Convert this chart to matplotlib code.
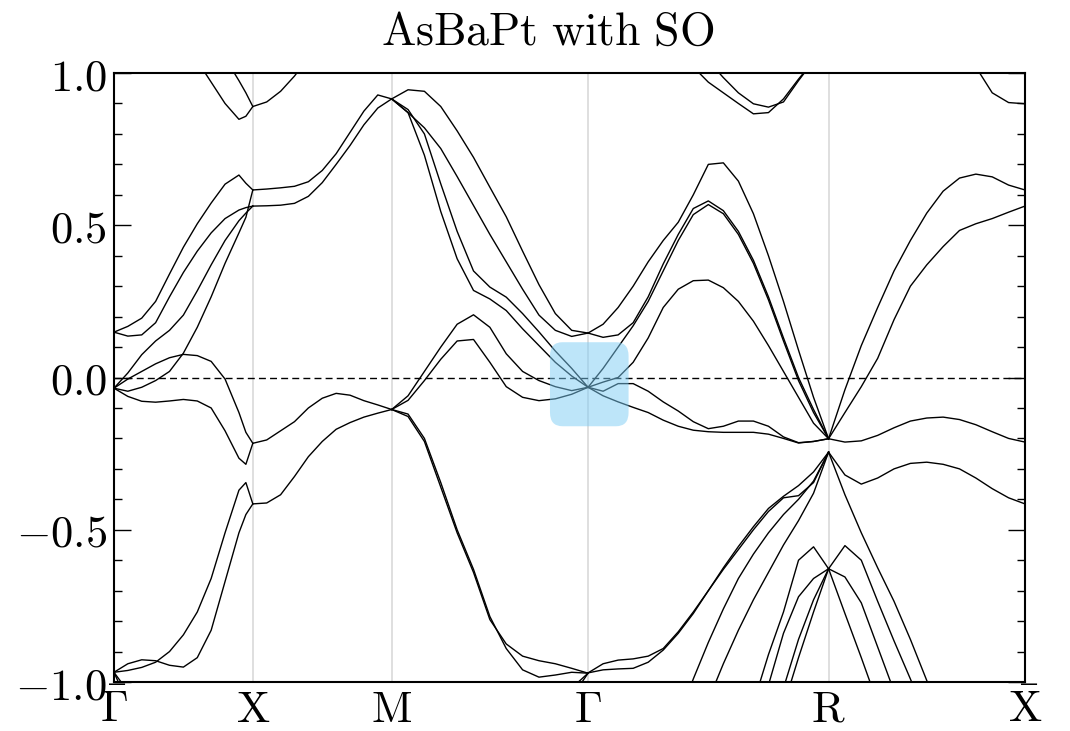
import numpy as np
import matplotlib
matplotlib.use("Agg")
import matplotlib.pyplot as plt
from matplotlib.patches import FancyBboxPatch
from matplotlib.ticker import MultipleLocator, FuncFormatter

plt.rcParams['mathtext.fontset'] = 'cm'

nan = np.nan

# high-symmetry path Γ-X-M-Γ-R-X (cubic, path length in 2π/a)
KPTS = [0.0, 0.5, 1.0, 1.7071, 2.5731, 3.2802]
KLABELS = [r'$\bar{\Gamma}$', r'$\mathrm{X}$', r'$\mathrm{M}$', r'$\Gamma$',
           r'$\mathrm{R}$', r'$\bar{\mathrm{X}}$']

# fractional sampling along each segment
GX_T = [0, .1, .2, .3, .4, .5, .6, .7, .8, .9, .95, 1.0]
XM_T = list(np.linspace(0, 1, 11))
MG_T = list(np.linspace(0, 1, 13))
GR_T = list(np.linspace(0, 1, 17))
RX_T = list(np.linspace(0, 1, 13))

# band energies (eV) along Γ-X
GX_BANDS = [
    [0.149, 0.168, 0.195, 0.25, 0.34, 0.428, 0.505, 0.573, 0.635, 0.665, 0.638, 0.616],
    [0.149, 0.136, 0.14, 0.18, 0.265, 0.345, 0.415, 0.475, 0.522, 0.55, 0.558, 0.563],
    [-0.035, 0.015, 0.075, 0.12, 0.155, 0.205, 0.285, 0.37, 0.45, 0.515, 0.54, 0.563],
    [-0.035, -0.045, -0.032, -0.01, 0.02, 0.08, 0.165, 0.265, 0.375, 0.475, 0.526, 0.616],
    [-0.035, -0.005, 0.02, 0.045, 0.065, 0.076, 0.072, 0.053, -0.005, -0.115, -0.18, -0.216],
    [-0.035, -0.062, -0.078, -0.081, -0.077, -0.072, -0.077, -0.1, -0.175, -0.265, -0.285, -0.216],
    [-0.968, -0.962, -0.952, -0.935, -0.9, -0.845, -0.77, -0.66, -0.51, -0.37, -0.345, -0.415],
    [-0.968, -0.94, -0.927, -0.93, -0.945, -0.951, -0.92, -0.83, -0.67, -0.51, -0.45, -0.415],
    [nan, nan, nan, nan, nan, 1.15, 1.04, 0.97, 0.9, 0.848, 0.858, 0.89],
    [nan, nan, nan, nan, nan, nan, nan, 1.13, 1.05, 0.975, 0.935, 0.89],
    [-0.968, -1.03, nan, nan, nan, nan, nan, nan, nan, nan, nan, nan],
    [-0.968, -1.07, nan, nan, nan, nan, nan, nan, nan, nan, nan, nan],
]

# band energies (eV) along X-M
XM_BANDS = [
    [0.616, 0.619, 0.623, 0.628, 0.643, 0.68, 0.735, 0.805, 0.875, 0.928, 0.915],
    [0.563, 0.564, 0.566, 0.572, 0.595, 0.64, 0.70, 0.762, 0.83, 0.885, 0.915],
    [-0.216, -0.205, -0.175, -0.145, -0.1, -0.068, -0.052, -0.058, -0.076, -0.09, -0.105],
    [-0.415, -0.412, -0.385, -0.325, -0.26, -0.21, -0.17, -0.148, -0.13, -0.117, -0.105],
    [0.89, 0.905, 0.94, 0.99, 1.05, nan, nan, nan, nan, nan, nan],
]

# band energies (eV) along M-Γ
MG_BANDS = [
    [0.915, 0.945, 0.94, 0.89, 0.81, 0.723, 0.625, 0.528, 0.415, 0.305, 0.21, 0.155, 0.146],
    [0.915, 0.87, 0.82, 0.752, 0.66, 0.565, 0.47, 0.38, 0.29, 0.205, 0.155, 0.135, 0.146],
    [0.915, 0.88, 0.80, 0.636, 0.48, 0.35, 0.297, 0.264, 0.21, 0.15, 0.087, 0.03, -0.032],
    [0.915, 0.87, 0.73, 0.545, 0.39, 0.286, 0.258, 0.22, 0.16, 0.105, 0.05, 0.005, -0.032],
    [-0.105, -0.06, 0.02, 0.1, 0.175, 0.206, 0.165, 0.078, 0.02, -0.01, -0.03, -0.043, -0.032],
    [-0.105, -0.075, -0.01, 0.06, 0.12, 0.125, 0.05, -0.03, -0.065, -0.076, -0.07, -0.055, -0.032],
    [-0.105, -0.128, -0.21, -0.36, -0.51, -0.64, -0.795, -0.875, -0.915, -0.93, -0.94, -0.955, -0.971],
    [-0.105, -0.12, -0.2, -0.345, -0.50, -0.63, -0.785, -0.89, -0.96, -0.984, -0.977, -0.968, -0.971],
    [nan, nan, nan, nan, nan, nan, nan, nan, nan, nan, nan, -1.02, -0.971],
    [nan, nan, nan, nan, nan, nan, nan, nan, nan, nan, nan, -1.05, -0.971],
]

# band energies (eV) along Γ-R
GR_BANDS = [
    [0.146, 0.175, 0.23, 0.30, 0.38, 0.45, 0.51, 0.60, 0.70, 0.705, 0.645, 0.538, 0.40, 0.25, 0.09, -0.065, -0.201],
    [0.146, 0.132, 0.14, 0.18, 0.265, 0.373, 0.47, 0.555, 0.58, 0.548, 0.48, 0.385, 0.265, 0.13, 0.0, -0.105, -0.201],
    [-0.032, 0.03, 0.10, 0.17, 0.25, 0.35, 0.45, 0.535, 0.568, 0.538, 0.47, 0.375, 0.255, 0.12, -0.01, -0.115, -0.201],
    [-0.032, -0.015, 0.0, 0.05, 0.13, 0.23, 0.29, 0.318, 0.32, 0.295, 0.25, 0.185, 0.105, 0.02, -0.065, -0.15, -0.201],
    [-0.032, -0.045, -0.02, -0.02, -0.045, -0.08, -0.11, -0.145, -0.168, -0.16, -0.143, -0.143, -0.16, -0.195, -0.214, -0.21, -0.201],
    [-0.032, -0.06, -0.08, -0.098, -0.115, -0.14, -0.16, -0.173, -0.178, -0.18, -0.18, -0.18, -0.186, -0.2, -0.215, -0.21, -0.201],
    [-0.970, -0.94, -0.928, -0.924, -0.915, -0.89, -0.835, -0.77, -0.70, -0.63, -0.565, -0.50, -0.44, -0.395, -0.388, -0.345, -0.245],
    [-0.970, -0.96, -0.957, -0.955, -0.935, -0.895, -0.84, -0.775, -0.70, -0.625, -0.555, -0.49, -0.43, -0.39, -0.355, -0.31, -0.245],
    [nan, nan, nan, nan, nan, nan, -1.12, -0.99, -0.87, -0.76, -0.66, -0.58, -0.51, -0.45, -0.40, -0.34, -0.245],
    [nan, nan, nan, nan, nan, nan, nan, nan, -1.06, -0.94, -0.83, -0.73, -0.64, -0.55, -0.47, -0.38, -0.245],
    [nan, nan, nan, nan, nan, nan, nan, nan, nan, nan, nan, -1.07, -0.91, -0.77, -0.60, -0.556, -0.628],
    [nan, nan, nan, nan, nan, nan, nan, nan, nan, nan, nan, nan, -1.01, -0.84, -0.72, -0.66, -0.628],
    [nan, nan, nan, nan, nan, nan, nan, nan, nan, nan, nan, nan, nan, -1.02, -0.86, -0.73, -0.628],
    [nan, nan, nan, nan, nan, nan, nan, nan, nan, nan, nan, nan, nan, -1.08, -0.92, -0.77, -0.628],
    [nan, nan, nan, nan, nan, nan, 1.1, 1.02, 0.97, 0.935, 0.9, 0.866, 0.87, 0.915, 0.98, 1.04, nan],
    [nan, nan, nan, nan, nan, nan, nan, nan, 1.04, 0.985, 0.935, 0.899, 0.888, 0.905, 0.975, 1.04, nan],
]

# band energies (eV) along R-X
RX_BANDS = [
    [-0.201, -0.04, 0.105, 0.23, 0.35, 0.45, 0.54, 0.612, 0.655, 0.668, 0.659, 0.632, 0.616],
    [-0.201, -0.115, -0.03, 0.063, 0.19, 0.3, 0.37, 0.43, 0.483, 0.505, 0.522, 0.543, 0.563],
    [-0.201, -0.212, -0.208, -0.19, -0.165, -0.143, -0.133, -0.130, -0.138, -0.155, -0.178, -0.2, -0.212],
    [-0.245, -0.32, -0.35, -0.33, -0.3, -0.282, -0.278, -0.285, -0.3, -0.33, -0.365, -0.395, -0.415],
    [-0.245, -0.385, -0.51, -0.625, -0.735, -0.86, -0.995, -1.12, nan, nan, nan, nan, nan],
    [-0.628, -0.552, -0.60, -0.735, -0.865, -0.99, -1.12, nan, nan, nan, nan, nan, nan],
    [-0.628, -0.655, -0.74, -0.885, -1.03, nan, nan, nan, nan, nan, nan, nan, nan],
    [-0.628, -0.775, -0.92, -1.07, nan, nan, nan, nan, nan, nan, nan, nan, nan],
    [nan, nan, nan, nan, nan, nan, nan, nan, nan, 1.02, 0.935, 0.903, 0.899],
]

SEGMENTS = [
    (0, 1, GX_T, GX_BANDS),
    (1, 2, XM_T, XM_BANDS),
    (2, 3, MG_T, MG_BANDS),
    (3, 4, GR_T, GR_BANDS),
    (4, 5, RX_T, RX_BANDS),
]

# highlighted region around the Γ crossing (k range, energy range)
HIGHLIGHT_K = (1.570, 1.853)
HIGHLIGHT_E = (-0.160, 0.116)

fig = plt.figure(figsize=(10.7, 7.31), dpi=100)
ax = fig.add_axes([0.1065, 0.0670, 0.8514, 0.8331])

for k in KPTS[1:-1]:
    ax.axvline(k, color='#dcdcdc', lw=1.3, zorder=0)

for i0, i1, t, bands in SEGMENTS:
    k = KPTS[i0] + np.asarray(t) * (KPTS[i1] - KPTS[i0])
    for e in bands:
        ax.plot(k, e, color='black', lw=1.0, zorder=2)

ax.axhline(0.0, color='black', lw=1.0, ls=(0, (5, 3)), zorder=2)

box = FancyBboxPatch((HIGHLIGHT_K[0], HIGHLIGHT_E[0]),
                     HIGHLIGHT_K[1] - HIGHLIGHT_K[0],
                     HIGHLIGHT_E[1] - HIGHLIGHT_E[0],
                     boxstyle='round,pad=0,rounding_size=0.045',
                     fc='#7dcdf5', ec='none', alpha=0.5, zorder=3)
ax.add_patch(box)

ax.set_xlim(KPTS[0], KPTS[-1])
ax.set_ylim(-1.0, 1.0)

ax.yaxis.set_major_locator(MultipleLocator(0.5))
ax.yaxis.set_minor_locator(MultipleLocator(0.1))
ax.yaxis.set_major_formatter(FuncFormatter(lambda v, p: r'$%.1f$' % v))
ax.tick_params(axis='y', which='both', direction='in', left=True, right=True,
               labelsize=32, pad=5, width=1.0)
ax.tick_params(axis='y', which='major', length=12)
ax.tick_params(axis='y', which='minor', length=6)

ax.set_xticks(KPTS)
ax.set_xticklabels(KLABELS, va='baseline')
ax.tick_params(axis='x', which='both', length=0, labelsize=32, pad=28.5)

for s in ax.spines.values():
    s.set_linewidth(1.5)

fig.text(548 / 1070, 1 - 45 / 731, r'$\mathrm{AsBaPt\ with\ SO}$',
         fontsize=33, ha='center', va='baseline')

fig.savefig('out.png', dpi=100)
